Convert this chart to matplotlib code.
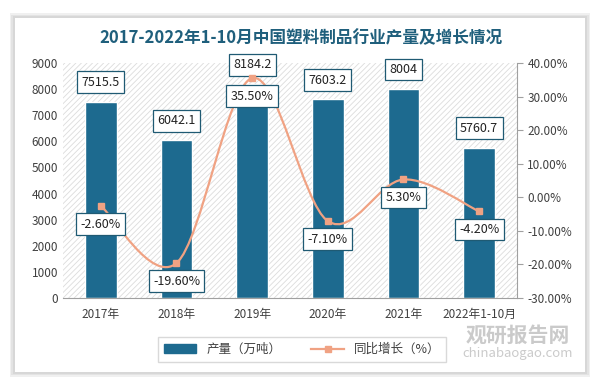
import matplotlib
matplotlib.use("Agg")
import matplotlib.pyplot as plt
from matplotlib.patches import Rectangle, FancyBboxPatch
from matplotlib.path import Path
from matplotlib.patches import PathPatch
from matplotlib.lines import Line2D

plt.rcParams['font.family'] = ['Noto Sans CJK SC', 'DejaVu Sans']
plt.rcParams['hatch.linewidth'] = 0.6

# données
annees = ["2017年", "2018年", "2019年", "2020年", "2021年", "2022年1-10月"]
production = [7515.5, 6042.1, 8184.2, 7603.2, 8004, 5760.7]
croissance = [-2.60, -19.60, 35.50, -7.10, 5.30, -4.20]

couleur_barre = "#1d6a8f"
couleur_ligne = "#f0a283"
couleur_cadre = "#1f5a73"
couleur_texte = "#404040"

fig = plt.figure(figsize=(6.05, 3.78), dpi=100)
fig.patch.set_facecolor("white")

# carte blanche avec ombre
for i, a in enumerate([0.05, 0.05, 0.06]):
    fig.patches.append(FancyBboxPatch((15 / 605 - 0.003 * (i + 1), 6 / 378 - 0.004 * (i + 1)),
                                      570 / 605 + 0.006 * (i + 1), 354 / 378 + 0.008 * (i + 1),
                                      boxstyle="square,pad=0", transform=fig.transFigure,
                                      facecolor="black", edgecolor="none", alpha=a, zorder=0))
fig.patches.append(Rectangle((15 / 605, 6 / 378), 570 / 605, 354 / 378,
                             transform=fig.transFigure, facecolor="white",
                             edgecolor="none", zorder=1))

ax = fig.add_axes([63 / 605, 1 - 298 / 378, 454 / 605, 235 / 378])
ax.set_zorder(2)
ax.patch.set_alpha(0)
ax.add_patch(Rectangle((0, 0), 1, 1, transform=ax.transAxes, facecolor="white",
                       edgecolor="#dcdcdc", hatch="//////", linewidth=0, zorder=0))

x = list(range(len(annees)))
ax.bar(x, production, width=0.42, color=couleur_barre, edgecolor="white", linewidth=1.0, zorder=2)
ax.set_xlim(-0.5, len(annees) - 0.5)
ax.set_ylim(0, 9000)
ax.set_yticks(range(0, 9001, 1000))
ax.set_xticks(x)
ax.set_xticklabels(annees)
ax.tick_params(axis="both", length=0, labelsize=8.5, colors=couleur_texte)
ax.tick_params(axis="x", pad=7)
for s in ["top", "right", "left"]:
    ax.spines[s].set_visible(False)
ax.spines["bottom"].set_color("#a0a0a0")

for xi, v in zip(x, production):
    ax.annotate(f"{v:g}", (xi, v), xytext=(0, 14), textcoords="offset points",
                ha="center", va="center", fontsize=9, color="#222222", zorder=5,
                bbox=dict(boxstyle="square,pad=0.35", fc="white", ec=couleur_cadre, lw=0.9))

ax2 = ax.twinx()
ax2.set_ylim(-30, 40)
ax2.set_yticks(range(-30, 41, 10))
ax2.set_yticklabels([f"{t:.2f}%" for t in range(-30, 41, 10)])
ax2.tick_params(axis="y", length=4, color="#a0a0a0", labelsize=8.5, colors=couleur_texte)
for s in ["top", "left", "bottom"]:
    ax2.spines[s].set_visible(False)
ax2.spines["right"].set_color("#a0a0a0")

# courbe lissée (Catmull-Rom -> Bézier)
pts = list(zip(x, croissance))
verts = [pts[0]]
codes = [Path.MOVETO]
for i in range(len(pts) - 1):
    p0 = pts[i - 1] if i > 0 else pts[i]
    p1 = pts[i]
    p2 = pts[i + 1]
    p3 = pts[i + 2] if i + 2 < len(pts) else pts[i + 1]
    c1 = (p1[0] + (p2[0] - p0[0]) / 6, p1[1] + (p2[1] - p0[1]) / 6)
    c2 = (p2[0] - (p3[0] - p1[0]) / 6, p2[1] - (p3[1] - p1[1]) / 6)
    verts += [c1, c2, p2]
    codes += [Path.CURVE4] * 3
ax2.add_patch(PathPatch(Path(verts, codes), facecolor="none", edgecolor=couleur_ligne,
                        lw=1.6, zorder=3))
ax2.plot(x, croissance, linestyle="none", marker="s", markersize=5,
         color=couleur_ligne, zorder=4)

for xi, v in zip(x, croissance):
    ax2.annotate(f"{v:.2f}%", (xi, v), xytext=(0, -13), textcoords="offset points",
                 ha="center", va="center", fontsize=9, color="#222222", zorder=5,
                 bbox=dict(boxstyle="square,pad=0.35", fc="white", ec=couleur_cadre, lw=0.9))

fig.text(0.497, 1 - 38 / 378, "2017-2022年1-10月中国塑料制品行业产量及增长情况",
         ha="center", va="center", fontsize=12, fontweight="bold", color="#1f5f7c", zorder=5)

# légende
poignees = [Rectangle((0, 0), 1, 1, color=couleur_barre),
            Line2D([], [], color=couleur_ligne, lw=1.6, marker="s", markersize=4)]
leg = fig.legend(poignees, ["产量（万吨）", "同比增长（%）"], loc="center",
                 bbox_to_anchor=(302 / 605, 1 - 349.5 / 378), ncol=2, fontsize=9,
                 frameon=True, fancybox=False, edgecolor="#d0d0d0", handlelength=2.6,
                 columnspacing=2.4, borderpad=0.45)
for t in leg.get_texts():
    t.set_color(couleur_texte)

# filigrane
fig.text(518 / 605, 1 - 335 / 378, "观研报告网", ha="center", va="center", fontsize=15,
         fontweight="bold", color="#a8a8a8", alpha=0.6, zorder=6)
fig.text(518 / 605, 1 - 354 / 378, "chinabaogao.com", ha="center", va="center", fontsize=9.5,
         color="#a8a8a8", alpha=0.6, zorder=6)

fig.savefig("out.png", dpi=100)
